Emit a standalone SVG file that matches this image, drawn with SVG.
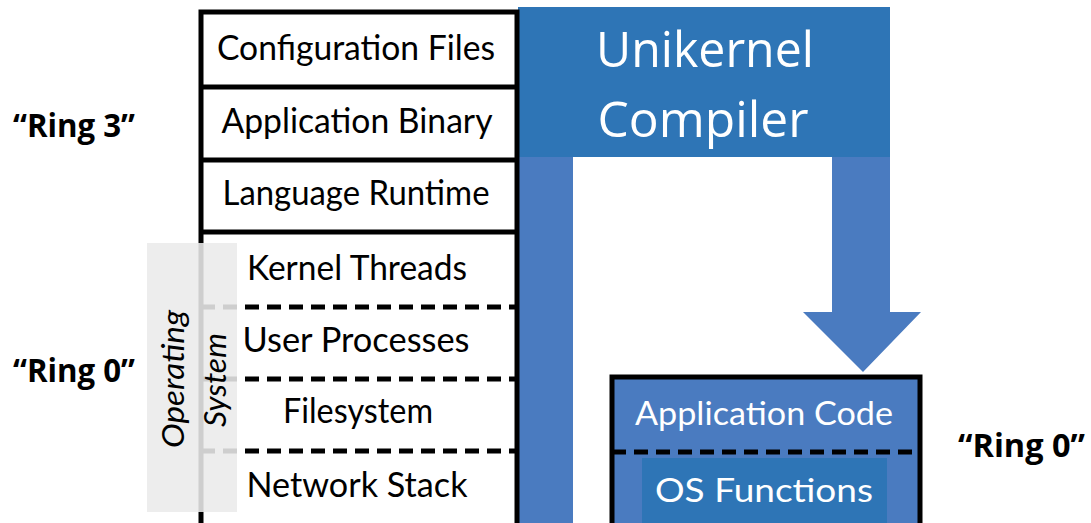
<svg xmlns="http://www.w3.org/2000/svg" width="1091" height="523" viewBox="0 0 1091 523">
<style>
.stk{font-family:Lato,"Open Sans",sans-serif;font-size:34px;fill:#000;text-anchor:middle}
.wt{font-family:Lato,"Open Sans",sans-serif;font-size:33px;fill:#fff;text-anchor:middle}
.big{font-family:"Open Sans","Noto Sans",sans-serif;font-size:50px;fill:#fff;text-anchor:middle}
.ring{font-family:"Open Sans","Liberation Sans",sans-serif;font-weight:bold;font-size:32px;fill:#000}
.os{font-family:Lato,"Open Sans",sans-serif;font-style:italic;font-size:31px;fill:#000;text-anchor:middle}
.solid{stroke:#000;stroke-width:5}
.dash{stroke:#000;stroke-width:5;stroke-dasharray:14 8;fill:none}
</style>
<rect width="1091" height="523" fill="#fff"/>

<g id="compiler">
<rect x="518" y="7" width="372" height="150" fill="#2e75b6"/>
<rect x="518" y="157" width="55" height="380" fill="#4a7bc0"/>
<path d="M832 157 H890 V312 H921 L863 372 L803 312 H832 Z" fill="#4a7bc0"/>
<text class="big" x="705" y="67" textLength="218" lengthAdjust="spacingAndGlyphs">Unikernel</text>
<text class="big" x="703" y="137" textLength="211" lengthAdjust="spacingAndGlyphs">Compiler</text>
</g>

<g id="stack">
<rect x="201" y="12" width="316" height="530" fill="#fff" class="solid"/>
<line x1="201" y1="87" x2="517" y2="87" class="solid"/>
<line x1="201" y1="160" x2="517" y2="160" class="solid"/>
<line x1="201" y1="232" x2="517" y2="232" class="solid"/>
<line x1="201" y1="307" x2="517" y2="307" class="dash"/>
<line x1="201" y1="379" x2="517" y2="379" class="dash"/>
<line x1="201" y1="451" x2="517" y2="451" class="dash"/>
<text class="stk" x="356" y="60" textLength="278" lengthAdjust="spacingAndGlyphs">Configuration Files</text>
<text class="stk" x="357" y="133" textLength="271" lengthAdjust="spacingAndGlyphs">Application Binary</text>
<text class="stk" x="356" y="205" textLength="267" lengthAdjust="spacingAndGlyphs">Language Runtime</text>
<text class="stk" x="357" y="280" textLength="220" lengthAdjust="spacingAndGlyphs">Kernel Threads</text>
<text class="stk" x="356" y="352" textLength="227" lengthAdjust="spacingAndGlyphs">User Processes</text>
<text class="stk" x="358" y="423" textLength="150" lengthAdjust="spacingAndGlyphs">Filesystem</text>
<text class="stk" x="357" y="497" textLength="221" lengthAdjust="spacingAndGlyphs">Network Stack</text>
</g>

<g id="os-label">
<rect x="147" y="243" width="90" height="269" fill="#ebebeb" fill-opacity="0.88"/>
<text class="os" transform="translate(184,379) rotate(-90)" textLength="138" lengthAdjust="spacingAndGlyphs">Operating</text>
<text class="os" transform="translate(226,380) rotate(-90)" textLength="94" lengthAdjust="spacingAndGlyphs">System</text>
</g>

<g id="unikernel">
<rect x="612" y="377" width="308" height="170" fill="#4a7bc0" class="solid"/>
<rect x="642" y="458" width="245" height="70" fill="#2e75b6"/>
<line x1="612" y1="452" x2="920" y2="452" class="dash"/>
<text class="wt" x="764" y="425" textLength="258" lengthAdjust="spacingAndGlyphs">Application Code</text>
<text class="wt" x="764" y="502" textLength="218" lengthAdjust="spacingAndGlyphs">OS Functions</text>
</g>

<g id="rings">
<text class="ring" x="13" y="137" textLength="122" lengthAdjust="spacingAndGlyphs">“Ring 3”</text>
<text class="ring" x="13" y="382" textLength="122" lengthAdjust="spacingAndGlyphs">“Ring 0”</text>
<text class="ring" x="958" y="457" textLength="127" lengthAdjust="spacingAndGlyphs">“Ring 0”</text>
</g>

<g id="connectors"></g>
</svg>
